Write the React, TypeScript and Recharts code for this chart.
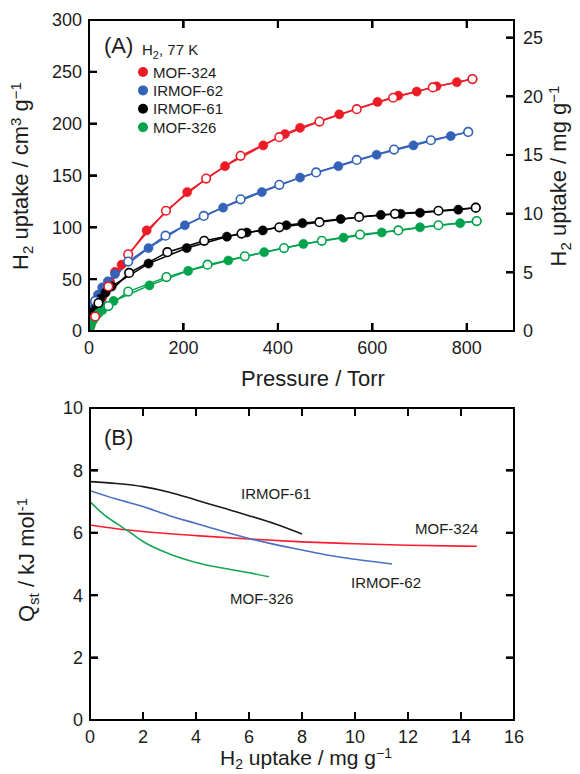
import React from 'react';
import { LineChart, Line, XAxis, YAxis, Customized } from 'recharts';

const FONT = '"Liberation Sans", Arial, Helvetica, sans-serif';
const INK = '#1c1c1c';

// (A) H2 isotherms at 77 K: [pressure / Torr, uptake / cm3 g-1]
// filled = adsorption, open = desorption
const mof324Ads = [[0, 0], [1, 2], [3, 5], [6, 9], [10, 14], [15, 19], [21, 25], [28, 32], [36, 39], [45, 47], [55, 57], [69, 64], [122, 97], [208, 134], [288, 159], [369, 179], [415, 190], [447, 196], [530, 209], [611, 221], [655, 227], [694, 231], [736, 236], [779, 240], [812, 243]];
const mof324Des = [[812, 243], [728, 235], [644, 225], [567, 214], [488, 202], [403, 187], [321, 169], [248, 147], [163, 116], [83, 74], [41, 43], [13, 14]];

const irmof62Ads = [[0, 0], [1, 6], [3, 13], [7, 21], [12, 28], [19, 35], [28, 42], [40, 48], [55, 55], [126, 80], [203, 102], [284, 119], [366, 134], [447, 148], [528, 159], [609, 170], [687, 179], [766, 188], [803, 192]];
const irmof62Des = [[803, 192], [724, 184], [646, 175], [567, 165], [481, 153], [403, 141], [321, 127], [243, 111], [162, 92], [83, 67], [13, 29]];

const irmof61Ads = [[0, 0], [1, 4], [3, 9], [6, 14], [10, 19], [16, 25], [24, 31], [35, 37], [48, 43], [126, 65], [207, 80], [292, 91], [334, 95], [368, 97], [418, 102], [452, 104], [533, 108], [618, 112], [660, 113], [701, 114], [782, 117], [819, 119]];
const irmof61Des = [[819, 119], [740, 116], [648, 113], [572, 110], [488, 105], [403, 100], [323, 94], [244, 87], [166, 76], [85, 56], [20, 27]];

const mof326Ads = [[0, 0], [1, 2], [4, 6], [8, 10], [13, 13], [20, 17], [28, 20], [38, 24], [52, 29], [128, 44], [210, 58], [295, 68], [371, 76], [454, 84], [539, 90], [620, 95], [701, 100], [786, 104], [821, 106]];
const mof326Des = [[821, 106], [740, 102], [655, 97], [574, 93], [493, 87], [413, 80], [330, 72], [251, 64], [164, 52], [83, 38], [41, 24]];

const P_TICKS = [0, 200, 400, 600, 800];
const CM3_TICKS = [0, 50, 100, 150, 200, 250, 300];
const MG_TICKS = [0, 5, 10, 15, 20, 25];

// (B) isosteric heat: [H2 uptake / mg g-1, Qst / kJ mol-1]
const qstMof324 = [[0, 6.25], [1, 6.13], [2, 6.04], [3, 5.97], [4, 5.91], [6, 5.8], [8, 5.71], [10, 5.65], [12, 5.6], [14.6, 5.57]];
const qstIrmof62 = [[0, 7.35], [1, 7.08], [2, 6.84], [3, 6.55], [4, 6.3], [5, 6.05], [6, 5.82], [7, 5.62], [8, 5.45], [9, 5.28], [10, 5.15], [11.4, 5.0]];
const qstIrmof61 = [[0, 7.64], [1, 7.58], [2, 7.48], [3, 7.3], [4, 7.05], [5, 6.8], [6, 6.55], [7, 6.28], [8, 5.96]];
const qstMof326 = [[0, 7.0], [0.5, 6.6], [1, 6.3], [1.5, 6.02], [2, 5.72], [3, 5.32], [4, 5.05], [5, 4.87], [6, 4.72], [6.75, 4.59]];

const Q_X_TICKS = [0, 2, 4, 6, 8, 10, 12, 14, 16];
const Q_Y_TICKS = [0, 2, 4, 6, 8, 10];

const toPts = (rows: number[][]) => rows.map(([x, y]) => ({ x, y }));

const SERIES_A = [
  { name: 'MOF-324', color: '#ec1c27', ads: mof324Ads, des: mof324Des },
  { name: 'IRMOF-62', color: '#3462b9', ads: irmof62Ads, des: irmof62Des },
  { name: 'IRMOF-61', color: '#000000', ads: irmof61Ads, des: irmof61Des },
  { name: 'MOF-326', color: '#03a24c', ads: mof326Ads, des: mof326Des },
];

const SERIES_B = [
  { name: 'IRMOF-61', color: '#1a1a1a', data: qstIrmof61, lx: 241, ly: 499 },
  { name: 'MOF-324', color: '#ff1b2d', data: qstMof324, lx: 415, ly: 534 },
  { name: 'IRMOF-62', color: '#4a6fc3', data: qstIrmof62, lx: 351, ly: 588 },
  { name: 'MOF-326', color: '#16a652', data: qstMof326, lx: 230, ly: 604 },
];

const TOP_B = 392;
const axisLine = { stroke: '#000', strokeWidth: 2 };
const tickLine = { stroke: '#000', strokeWidth: 2 };
const tickText = { fill: INK, fontSize: 18, fontFamily: FONT };
const hiddenText = { fill: 'none', fontSize: 1 };
const TL = 8; // inward tick length

// plot boxes in each chart's own coordinates (fixed by margins / axis sizes)
const BOX_A = { x: 89, y: 20, w: 425, h: 311 };
const BOX_B = { x: 90, y: 16, w: 424, h: 312 };

// frame + inward tick marks as [x, y, w, h] rects
const frameRects = (box: any, xMax: number, xTicks: number[], yMax: number, yTicks: number[], rMax: number, rTicks: number[]) => {
  const { x, y, w, h } = box;
  const sx = (v: number) => x + (v / xMax) * w;
  const sy = (v: number, m: number) => y + h - (v / m) * h;
  const rects: number[][] = [
    [x - 1, y - 1, w + 2, 2],
    [x + w - 1, y - 1, 2, h + 2],
    [x - 1, y - 1, 2, h + 2],
    [x - 1, y + h - 1, w + 2, 2],
  ];
  xTicks.filter((t) => t > 0 && t < xMax).forEach((t) => {
    rects.push([sx(t) - 1, y + h - TL, 2, TL]);
    rects.push([sx(t) - 1, y, 2, TL]);
  });
  yTicks.filter((t) => t > 0 && t < yMax).forEach((t) => rects.push([x, sy(t, yMax) - 1, TL, 2]));
  rTicks.filter((t) => t > 0 && t < rMax).forEach((t) => rects.push([x + w - TL, sy(t, rMax) - 1, TL, 2]));
  return rects;
};

const RECTS_A = frameRects(BOX_A, 900, P_TICKS, 300, CM3_TICKS, 26.5, MG_TICKS);
const RECTS_B = frameRects(BOX_B, 16, Q_X_TICKS, 10, Q_Y_TICKS, 10, Q_Y_TICKS);

const svgFrame = (rects: number[][]) => () => (
  <g fill="#000">
    {rects.map(([rx, ry, rw, rh], i) => (
      <rect key={i} x={rx} y={ry} width={rw} height={rh} />
    ))}
  </g>
);

const HtmlFrame = ({ rects, top }: { rects: number[][]; top: number }) => (
  <div style={{ position: 'absolute', left: 0, top, zIndex: 5, pointerEvents: 'none' }}>
    {rects.map(([rx, ry, rw, rh], i) => (
      <div key={i} style={{ position: 'absolute', left: rx, top: ry, width: rw, height: rh, background: '#000' }} />
    ))}
  </div>
);

const FrameA = svgFrame(RECTS_A);
const FrameB = svgFrame(RECTS_B);

const VTitle = ({ x, y, children }: any) => (
  <text x={x} y={y} transform={`rotate(-90 ${x} ${y})`} textAnchor="middle" fontSize={22} fontFamily={FONT} fill={INK}>
    {children}
  </text>
);

const LegendA = () => (
  <g fontFamily={FONT} fill={INK}>
    <text x={104} y={53} fontSize={22}>(A)</text>
    <text x={142} y={55} fontSize={15}>
      H<tspan dy={4} fontSize={11}>2</tspan><tspan dy={-4}>, 77 K</tspan>
    </text>
    {SERIES_A.map((s, i) => (
      <g key={s.name}>
        <circle cx={143} cy={72 + i * 18.4} r={5} fill={s.color} />
        <text x={153} y={72 + i * 18.4 + 5.5} fontSize={15}>{s.name}</text>
      </g>
    ))}
  </g>
);

const LabelsB = () => (
  <g fontFamily={FONT} fill={INK}>
    <text x={104} y={445 - TOP_B} fontSize={22}>(B)</text>
    {SERIES_B.map((s) => (
      <text key={s.name} x={s.lx} y={s.ly - TOP_B} fontSize={15}>{s.name}</text>
    ))}
  </g>
);

export default function App() {
  return (
    <div style={{ position: 'absolute', left: 0, top: 0, width: 580, height: 774, background: '#fff' }}>
      <div style={{ position: 'absolute', left: 0, top: 0 }}>
        <LineChart width={580} height={TOP_B} margin={{ top: 20, right: 0, bottom: 0, left: 0 }}>
          <XAxis xAxisId="p" type="number" dataKey="x" domain={[0, 900]} ticks={P_TICKS} allowDataOverflow
            height={61} axisLine={axisLine} tickLine={false} tickSize={0} tickMargin={10} tick={tickText}
            label={() => <text x={313} y={386} textAnchor="middle" fontSize={22} fontFamily={FONT} fill={INK}>Pressure / Torr</text>} />
          <XAxis xAxisId="pb" type="number" dataKey="x" domain={[0, 900]} ticks={P_TICKS} allowDataOverflow mirror
            axisLine={axisLine} tickLine={tickLine} tickSize={TL} tick={hiddenText} />
          <XAxis xAxisId="pt" orientation="top" type="number" dataKey="x" domain={[0, 900]} ticks={P_TICKS} allowDataOverflow mirror
            axisLine={axisLine} tickLine={tickLine} tickSize={TL} tick={hiddenText} />
          <YAxis yAxisId="cm3" type="number" dataKey="y" domain={[0, 300]} ticks={CM3_TICKS} allowDataOverflow
            width={89} axisLine={axisLine} tickLine={false} tickSize={0} tickMargin={7} tick={tickText}
            label={() => (
              <VTitle x={28} y={176}>
                H<tspan dy={5} fontSize={15}>2</tspan><tspan dy={-5}> uptake / cm</tspan><tspan dy={-7} fontSize={15}>3</tspan><tspan dy={7}> g</tspan><tspan dy={-7} fontSize={15}>−1</tspan>
              </VTitle>
            )} />
          <YAxis yAxisId="cm3m" type="number" domain={[0, 300]} ticks={CM3_TICKS} allowDataOverflow mirror
            axisLine={axisLine} tickLine={tickLine} tickSize={TL} tick={hiddenText} />
          <YAxis yAxisId="mg" orientation="right" type="number" domain={[0, 26.5]} ticks={MG_TICKS} allowDataOverflow
            width={66} axisLine={axisLine} tickLine={false} tickSize={0} tickMargin={9} tick={tickText}
            label={() => (
              <VTitle x={566} y={176}>
                H<tspan dy={5} fontSize={15}>2</tspan><tspan dy={-5}> uptake / mg g</tspan><tspan dy={-7} fontSize={15}>−1</tspan>
              </VTitle>
            )} />
          <YAxis yAxisId="mgm" orientation="right" type="number" domain={[0, 26.5]} ticks={MG_TICKS} allowDataOverflow mirror
            axisLine={axisLine} tickLine={tickLine} tickSize={TL} tick={hiddenText} />
          {SERIES_A.map((s) => (
            <Line key={s.name + '-ads'} xAxisId="p" yAxisId="cm3" data={toPts(s.ads)} dataKey="y" type="linear"
              stroke={s.color} strokeWidth={1.5} isAnimationActive={false}
              dot={{ r: 4.6, fill: s.color, stroke: s.color, strokeWidth: 0.5 }} />
          ))}
          {SERIES_A.map((s) => (
            <Line key={s.name + '-des'} xAxisId="p" yAxisId="cm3" data={toPts(s.des)} dataKey="y" type="linear"
              stroke={s.color} strokeWidth={1.5} isAnimationActive={false}
              dot={{ r: 4.3, fill: '#fff', stroke: s.color, strokeWidth: 1.6 }} />
          ))}
          <Customized component={FrameA} />
          <Customized component={LegendA} />
        </LineChart>
      </div>
      <div style={{ position: 'absolute', left: 0, top: TOP_B }}>
        <LineChart width={580} height={774 - TOP_B} margin={{ top: 16, right: 66, bottom: 0, left: 0 }}>
          <XAxis xAxisId="u" type="number" dataKey="x" domain={[0, 16]} ticks={Q_X_TICKS} allowDataOverflow
            height={54} axisLine={axisLine} tickLine={false} tickSize={0} tickMargin={10} tick={tickText}
            label={() => (
              <text x={306} y={765 - TOP_B} textAnchor="middle" fontSize={21} fontFamily={FONT} fill={INK}>
                H<tspan dy={4} fontSize={14}>2</tspan><tspan dy={-4}> uptake / mg g</tspan><tspan dy={-7} fontSize={14}>−1</tspan>
              </text>
            )} />
          <XAxis xAxisId="ub" type="number" dataKey="x" domain={[0, 16]} ticks={Q_X_TICKS} allowDataOverflow mirror
            axisLine={axisLine} tickLine={tickLine} tickSize={TL} tick={hiddenText} />
          <XAxis xAxisId="ut" orientation="top" type="number" dataKey="x" domain={[0, 16]} ticks={Q_X_TICKS} allowDataOverflow mirror
            axisLine={axisLine} tickLine={tickLine} tickSize={TL} tick={hiddenText} />
          <YAxis yAxisId="q" type="number" dataKey="y" domain={[0, 10]} ticks={Q_Y_TICKS} allowDataOverflow
            width={90} axisLine={axisLine} tickLine={false} tickSize={0} tickMargin={7} tick={tickText}
            label={() => (
              <VTitle x={34} y={560 - TOP_B}>
                Q<tspan dy={5} fontSize={15}>st</tspan><tspan dy={-5}> / kJ mol</tspan><tspan dy={-7} fontSize={15}>-1</tspan>
              </VTitle>
            )} />
          <YAxis yAxisId="qm" type="number" domain={[0, 10]} ticks={Q_Y_TICKS} allowDataOverflow mirror
            axisLine={axisLine} tickLine={tickLine} tickSize={TL} tick={hiddenText} />
          <YAxis yAxisId="qr" orientation="right" type="number" domain={[0, 10]} ticks={Q_Y_TICKS} allowDataOverflow mirror
            axisLine={axisLine} tickLine={tickLine} tickSize={TL} tick={hiddenText} />
          {SERIES_B.map((s) => (
            <Line key={s.name} xAxisId="u" yAxisId="q" data={toPts(s.data)} dataKey="y" type="monotone"
              stroke={s.color} strokeWidth={1.6} dot={false} isAnimationActive={false} />
          ))}
          <Customized component={FrameB} />
          <Customized component={LabelsB} />
        </LineChart>
      </div>
      <HtmlFrame rects={RECTS_A} top={0} />
      <HtmlFrame rects={RECTS_B} top={TOP_B} />
    </div>
  );
}
